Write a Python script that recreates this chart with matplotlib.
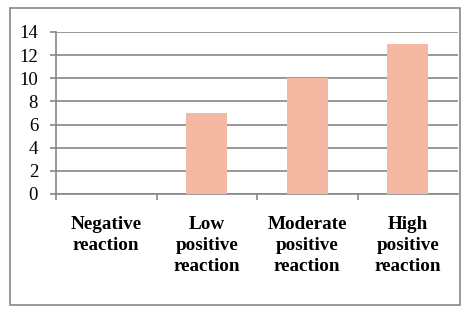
import matplotlib.pyplot as plt
from matplotlib.patches import Rectangle

categories = ['Negative\nreaction', 'Low\npositive\nreaction',
              'Moderate\npositive\nreaction', 'High\npositive\nreaction']
values = [0, 7, 10, 13]
yticks = [0, 2, 4, 6, 8, 10, 12, 14]

grid_c = '#878787'
bar_c = '#F4B9A3'

fig = plt.figure(figsize=(4.69, 3.13), dpi=100)
# outer chart border
fig.patches.append(Rectangle((10/469, 8/313), 450/469, 297/313, transform=fig.transFigure,
                             fill=False, edgecolor=grid_c, linewidth=1.2))

ax = fig.add_axes([56/469, 119/313, 402/469, 162/313])
x = list(range(len(categories)))
ax.bar(x, values, width=0.41, color=bar_c, zorder=3)

ax.set_xlim(-0.5, len(categories) - 0.5)
ax.set_ylim(0, 14)
ax.set_yticks(yticks)
ax.set_yticklabels([str(v) for v in yticks], family='Liberation Serif', fontsize=13.5)
ax.yaxis.grid(True, color=grid_c, linewidth=1.2, zorder=0)

ax.set_xticks(x)
ax.set_xticklabels(categories, family='Liberation Serif', fontsize=13.75,
                   fontweight='bold', linespacing=1.28)
ax.tick_params(axis='x', which='major', length=0, pad=16)
# category separators (no tick at far right end)
ax.set_xticks([i - 0.5 for i in range(len(categories))], minor=True)
ax.tick_params(axis='x', which='minor', length=4.3, color=grid_c, width=1.2)
ax.tick_params(axis='y', length=4.3, color=grid_c, width=1.2, pad=8.6)

for s in ['top', 'right']:
    ax.spines[s].set_visible(False)
for s in ['left', 'bottom']:
    ax.spines[s].set_color(grid_c)
    ax.spines[s].set_linewidth(1.2)

fig.savefig('out.png', dpi=100)
